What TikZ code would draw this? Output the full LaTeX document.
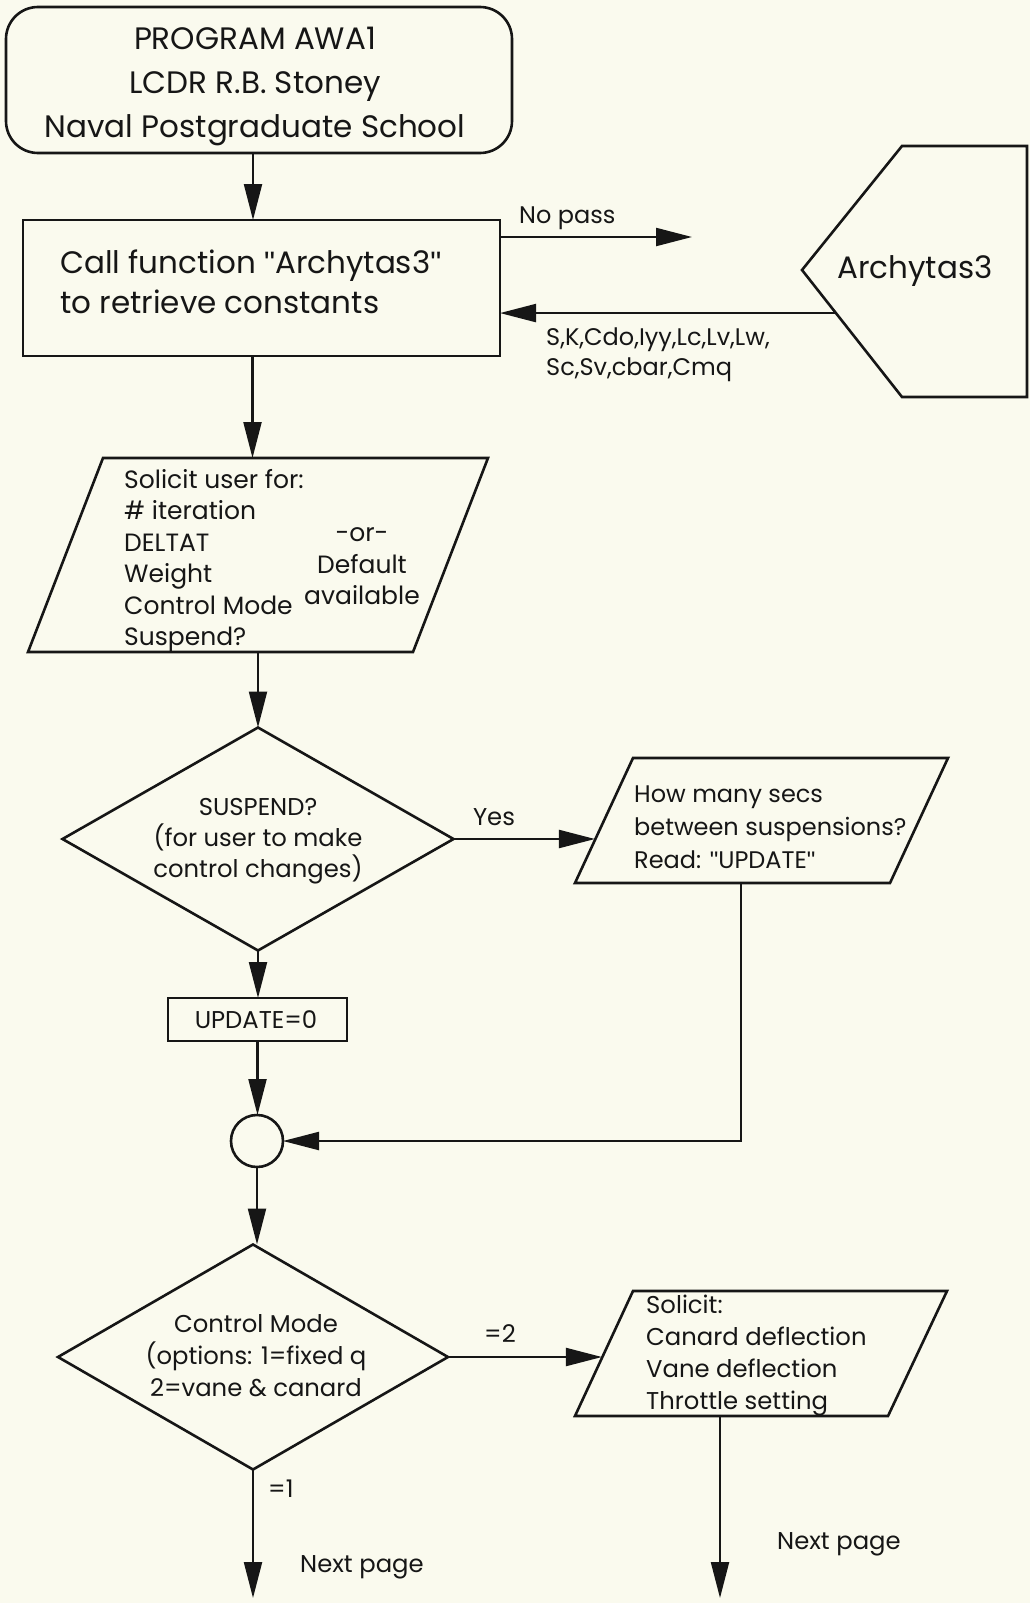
\documentclass[tikz,border=0pt]{standalone}
\usepackage{fontspec}
\setmainfont{Poppins}
\newfontfamily\qfont{Liberation Sans}
\newcommand\qq{{\qfont"}}
\usetikzlibrary{arrows.meta,shapes.geometric,calc}
\definecolor{bgcol}{RGB}{250,250,238}
\definecolor{ink}{RGB}{22,22,22}
\newcommand\FBig{\fontsize{31}{42}\selectfont}
\newcommand\FMed{\fontsize{25}{31}\selectfont}
\newcommand\FLow{\fontsize{24.3}{31}\selectfont}
\newcommand\FSm{\fontsize{24}{30}\selectfont}
\begin{document}
\begin{tikzpicture}[x=1pt,y=-1pt,
  shapebox/.style={draw=ink, line width=2.6pt, outer sep=0pt, inner sep=0pt},
  shapeline/.style={draw=ink, line width=2.6pt, line join=miter},
  conn/.style={draw=ink, line width=2.2pt, -{Triangle[length=36pt,width=18pt]}},
  txt/.style={inner sep=0pt, text=ink},
  big/.style={txt, font=\FBig},
  med/.style={txt, font=\FMed},
  low/.style={txt, font=\FLow},
  sm/.style={txt, font=\FSm},
]
\fill[bgcol] (0,0) rectangle (1030,1603);
\useasboundingbox (0,0) rectangle (1030,1603);

% ---------- shapes ----------
\node[shapebox, rounded corners=32pt, minimum width=506pt, minimum height=146pt] (start) at (259,80) {};
\node[shapebox, minimum width=477pt, minimum height=136pt] (call) at (261.5,288) {};
\node[shapebox, diamond, minimum width=391pt, minimum height=223pt] (dec1) at (258,839) {};
\node[shapebox, minimum width=179pt, minimum height=43pt] (upd) at (257.5,1019.5) {};
\node[shapebox, circle, minimum size=52pt] (join) at (257,1141) {};
\node[shapebox, diamond, minimum width=390pt, minimum height=225pt] (dec2) at (253,1357) {};

% input / output parallelograms
\coordinate (p1TL) at (103,458);  \coordinate (p1TR) at (488,458);
\coordinate (p1BR) at (413,652);  \coordinate (p1BL) at (28,652);
\draw[shapeline] (p1TL) -- (p1TR) -- (p1BR) -- (p1BL) -- cycle;

\coordinate (p2TL) at (633,758);  \coordinate (p2TR) at (948,758);
\coordinate (p2BR) at (890,883);  \coordinate (p2BL) at (575,883);
\draw[shapeline] (p2TL) -- (p2TR) -- (p2BR) -- (p2BL) -- cycle;

\coordinate (p3TL) at (633,1291); \coordinate (p3TR) at (947,1291);
\coordinate (p3BR) at (888,1416); \coordinate (p3BL) at (575,1416);
\draw[shapeline] (p3TL) -- (p3TR) -- (p3BR) -- (p3BL) -- cycle;

% Archytas3 (off-page routine)
\coordinate (aL) at (802,270);
\coordinate (aTL) at (902,146);
\coordinate (aTR) at (1027,146);
\coordinate (aBR) at (1027,397);
\coordinate (aBL) at (902,397);
\draw[shapeline] (aL) -- (aTL) -- (aTR) -- (aBR) -- (aBL) -- cycle;
\coordinate (aOut) at ($(aL)!0.339!(aBL)$);

% ---------- texts ----------
\node[big, anchor=base] (s1) at (255,49) {PROGRAM AWA1};
\node[big, anchor=base] (s2) at (255,93) {LCDR R.B. Stoney};
\node[big, anchor=base] (s3) at (255,137) {Naval Postgraduate School};

\node[big, anchor=base west] (c1) at (60,273) {Call function \qq Archytas3\qq};
\node[big, anchor=base west] (c2) at (60,313) {to retrieve constants};

\node[big, anchor=base] (arch) at (915,278) {Archytas3};

\node[sm, anchor=base west] (nopass) at (519,223) {No pass};
\node[sm, anchor=base west] (k1) at (546,345) {S,K,Cdo,Iyy,Lc,Lv,Lw,};
\node[sm, anchor=base west] (k2) at (546,375) {Sc,Sv,cbar,Cmq};

\node[med, anchor=base west] (u1) at (124,488) {Solicit user for:};
\node[med, anchor=base west] (u2) at (124,519.5) {\# iteration};
\node[med, anchor=base west] (u3) at (124,551) {DELTAT};
\node[med, anchor=base west] (u4) at (124,582.5) {Weight};
\node[med, anchor=base west] (u5) at (124,614) {Control Mode};
\node[med, anchor=base west] (u6) at (124,645.5) {Suspend?};
\node[med, anchor=base] (o1) at (362,541) {-or-};
\node[med, anchor=base] (o2) at (362,573) {Default};
\node[med, anchor=base] (o3) at (362,604) {available};

\node[low, anchor=base] (q1) at (258,815) {SUSPEND?};
\node[low, anchor=base] (q2) at (258,846) {(for user to make};
\node[low, anchor=base] (q3) at (258,877) {control changes)};
\node[low, anchor=base] (yes) at (494,825) {Yes};

\node[sm, anchor=base west] (h1) at (634,802) {How many secs};
\node[sm, anchor=base west] (h2) at (634,835) {between suspensions?};
\node[sm, anchor=base west] (h3) at (634,868) {Read: \qq UPDATE\qq};

\node[low, anchor=base] (updt) at (256,1028) {UPDATE=0};

\node[low, anchor=base] (m1) at (256,1332) {Control Mode};
\node[low, anchor=base] (m2) at (256,1364) {(options: 1=fixed q};
\node[low, anchor=base] (m3) at (256,1396) {2=vane \& canard};
\node[low, anchor=base] (eq2) at (500,1342) {=2};
\node[low, anchor=base west] (eq1) at (268,1497) {=1};

\node[low, anchor=base west] (r1) at (646,1313) {Solicit:};
\node[low, anchor=base west] (r2) at (646,1345) {Canard deflection};
\node[low, anchor=base west] (r3) at (646,1377) {Vane deflection};
\node[low, anchor=base west] (r4) at (646,1409) {Throttle setting};

\node[low, anchor=base west] (np1) at (300,1572) {Next page};
\node[low, anchor=base west] (np2) at (777,1549) {Next page};

% ---------- connectors ----------
\coordinate (startOut) at ($(start.south)+(-6,0)$);
\draw[conn] (startOut) -- (startOut |- call.north);
\coordinate (callOut) at ($(call.south)+(-9,0)$);
\draw[conn] (callOut) -- (callOut |- p1TL);
\coordinate (p1Out) at (258,652);
\draw[conn] (p1Out) -- (dec1.north);
\coordinate (p2In) at ($(p2BL)!0.344!(p2TL)$);
\draw[conn] (dec1.east) -- (dec1.east -| p2In);
\coordinate (p2Out) at (741,883);
\draw[conn] (p2Out) |- (join.east);
\draw[conn] (dec1.south) -- (dec1.south |- upd.north);
\draw[conn] (upd.south) -- (upd.south |- join.north);
\draw[conn] (join.south) -- (join.south |- dec2.north);
\coordinate (p3In) at ($(p3BL)!0.464!(p3TL)$);
\draw[conn] (dec2.east) -- (dec2.east -| p3In);
\coordinate (endA) at (253,1598);
\draw[conn] (dec2.south) -- (endA);
\coordinate (p3Out) at (720,1416);
\coordinate (endB) at (720,1598);
\draw[conn] (p3Out) -- (endB);
\coordinate (nopassStart) at ($(call.north east)+(0,17)$);
\coordinate (nopassEnd) at (692,237);
\draw[conn] (nopassStart) -- (nopassEnd);
\draw[conn] (aOut) -- (aOut -| call.east);
\end{tikzpicture}
\end{document}
